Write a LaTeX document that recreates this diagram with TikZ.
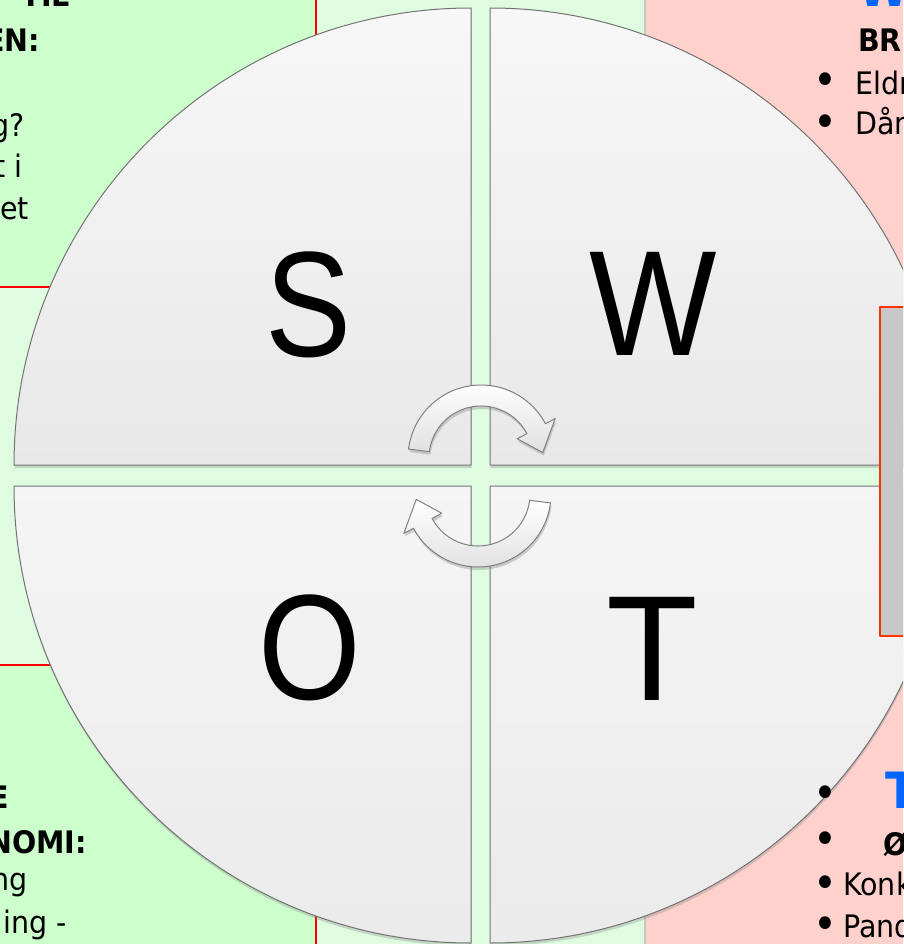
\documentclass[tikz,border=0pt]{standalone}
\usepackage{fontspec}
\setmainfont{DejaVu Sans}[FakeStretch=0.92]
\newfontfamily\bigfont{Liberation Sans}
\usetikzlibrary{calc,shadows}

\definecolor{boxgreen}{HTML}{CCFFCC}
\definecolor{chkgreen}{HTML}{E0FCE0}
\definecolor{boxpink}{HTML}{FFD1CD}
\definecolor{titleblue}{HTML}{0066FF}
\definecolor{edgered}{HTML}{FF3300}
\definecolor{boxgray}{HTML}{C8C8C8}

\tikzset{
  quad/.style={draw=black!55, line width=1pt,
    drop shadow={shadow xshift=0.5pt, shadow yshift=-3pt, opacity=0.3}},
  letter/.style={font=\bigfont\fontsize{150}{150}\selectfont, inner sep=0pt, anchor=base},
  txtR/.style={font=\fontsize{31}{36}\selectfont, inner sep=0pt, anchor=base east},
  txtL/.style={font=\fontsize{31}{36}\selectfont, inner sep=0pt, anchor=base west},
  bul/.style={font=\fontsize{44}{44}\selectfont, inner sep=0pt},
  head/.style={font=\bfseries\fontsize{50}{52}\selectfont, text=titleblue, inner sep=0pt, anchor=base west},
  turn/.style={draw=black!50, line width=1pt, top color=white, bottom color=black!12,
    drop shadow={shadow xshift=1pt, shadow yshift=-3pt, opacity=0.35}},
}

\begin{document}
\begin{tikzpicture}[x=1pt, y=-1pt, line join=round]
    \useasboundingbox (0,0) rectangle (903,944);
    \clip (0,0) rectangle (903,944);

    % Bakgrunn
    \fill[chkgreen] (0,0) rectangle (903,944);
    \draw[red, line width=2pt, fill=boxgreen] (-10,-10) rectangle (316,287);
    \draw[red, line width=2pt, fill=boxgreen] (-10,665) rectangle (316,960);
    \draw[gray!45, line width=1.5pt, fill=boxpink] (645,-10) rectangle (920,300);
    \draw[gray!45, line width=1.5pt, fill=boxpink] (645,650) rectangle (920,960);

    % Fire kvadranter
    \def\rad{457}
    \coordinate (cS) at (471,465);
    \coordinate (cW) at (490,465);
    \coordinate (cO) at (471,486);
    \coordinate (cT) at (490,486);
    \draw[quad, top color=black!3, bottom color=black!9]
        (cS) -- ++(-\rad,0) arc[start angle=180, end angle=270, radius=\rad] -- cycle;
    \draw[quad, top color=black!3, bottom color=black!9]
        (cW) -- ++(0,-\rad) arc[start angle=270, end angle=360, radius=\rad] -- cycle;
    \draw[quad, top color=black!4, bottom color=black!8]
        (cO) -- ++(-\rad,0) arc[start angle=180, end angle=90, radius=\rad] -- cycle;
    \draw[quad, top color=black!4, bottom color=black!8]
        (cT) -- ++(\rad,0) arc[start angle=0, end angle=90, radius=\rad] -- cycle;

    \node[letter, xscale=0.86] (S) at (309,356) {S};
    \node[letter, xscale=0.9] (W) at (653,355) {W};
    \node[letter, xscale=0.88] (O) at (310,699) {O};
    \node[letter] (T) at (652,700) {T};

    % Sirkelpiler
    \foreach \cx/\cy/\a in {481/458/0, 478/494/180}{
        \coordinate (ca) at (\cx,\cy);
        \draw[turn] ($(ca)+(\a+187:73)$) arc[start angle=\a+187, end angle=\a+332, radius=73]
            -- ($(ca)+(\a+332:84)$) -- ($(ca)+(\a+355:62)$) -- ($(ca)+(\a+332:41)$)
            -- ($(ca)+(\a+332:52)$) arc[start angle=\a+332, end angle=\a+187, radius=52] -- cycle;
    }

    % Tekst venstre
    \node[txtR] (s1) at (70,7) {\bfseries TIL};
    \node[txtR] (s2) at (40,52) {\bfseries EN:};
    \node[txtR] (s3) at (25,137) {g?};
    \node[txtR] (s4) at (23,178) {t i};
    \node[txtR] (s5) at (29,219) {et};

    \node[txtR] (o1) at (9,808) {\bfseries E};
    \node[txtR] (o2) at (87,853) {\bfseries NOMI:};
    \node[txtR] (o3) at (28,890) {ng};
    \node[txtR] (o4) at (67,933) {ing -};

    % Tekst hoyre
    \node[bul] (wb1) at (825,-2) {•};
    \node[head] (w1) at (858,7) {W};
    \node[txtL] (w2) at (858,52) {\bfseries BR};
    \node[bul] (wb3) at (825,84) {•};
    \node[txtL] (w3) at (855,95) {Eldr};
    \node[bul] (wb4) at (825,126) {•};
    \node[txtL] (w4) at (855,135) {Dån};

    \node[bul] (tb1) at (825,797) {•};
    \node[head] (t1) at (885,808) {T};
    \node[bul] (tb2) at (825,843) {•};
    \node[txtL] (t2) at (883,855) {\bfseries Ø};
    \node[bul] (tb3) at (825,887) {•};
    \node[txtL] (t3) at (843,895) {Konk};
    \node[bul] (tb4) at (825,928) {•};
    \node[txtL] (t4) at (843,937) {Pand};

    % Grå boks
    \draw[edgered, line width=2pt, fill=boxgray] (880,307) rectangle (920,636);
\end{tikzpicture}
\end{document}
